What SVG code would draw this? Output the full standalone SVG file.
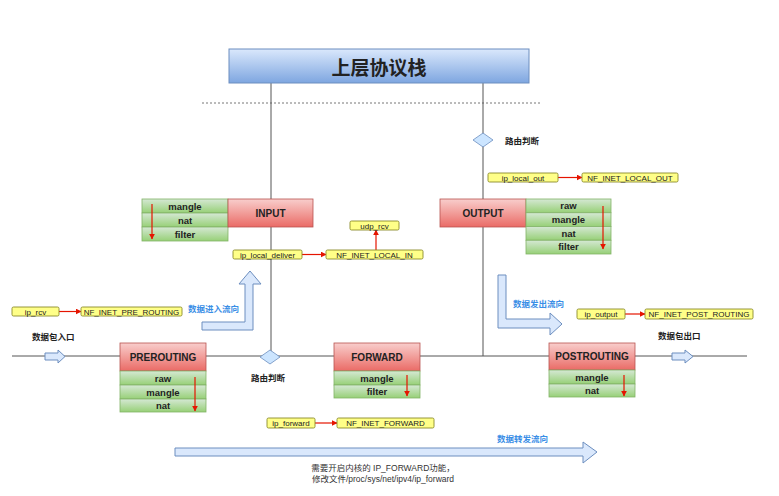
<svg xmlns="http://www.w3.org/2000/svg" width="779" height="496" viewBox="0 0 779 496">
<defs>
<linearGradient id="gBlue" x1="0" y1="0" x2="0" y2="1"><stop offset="0" stop-color="#dae8fc"/><stop offset="1" stop-color="#7ea6e0"/></linearGradient>
<linearGradient id="gRed" x1="0" y1="0" x2="0" y2="1"><stop offset="0" stop-color="#f8cecc"/><stop offset="1" stop-color="#ea6b66"/></linearGradient>
<linearGradient id="gGreen" x1="0" y1="0" x2="0" y2="1"><stop offset="0" stop-color="#d5e8d4"/><stop offset="1" stop-color="#97d077"/></linearGradient>
<marker id="ar" viewBox="0 0 10 10" refX="9" refY="5" markerWidth="6" markerHeight="6" orient="auto" markerUnits="userSpaceOnUse"><path d="M0,0 L10,5 L0,10 z" fill="#e51400"/></marker>
<style>
.red{fill:url(#gRed);stroke:#b85450;stroke-width:0.8}
.grn{fill:url(#gGreen);stroke:#82b366;stroke-width:0.8}
.yel{fill:#ffff88;stroke:#8a8a2a;stroke-width:0.9}
.hol{fill:#dae8fc;stroke:#6c8ebf;stroke-width:1}
.dia{fill:#cce5ff;stroke:#6c8ebf;stroke-width:0.8}
.ln{stroke:#555;stroke-width:1;fill:none}
.ra{stroke:#e51400;stroke-width:1.2;fill:none}
text{font-family:"Liberation Sans","Noto Sans CJK SC",sans-serif;fill:#222}
.tb{font-weight:bold;font-size:10px;text-anchor:middle}
.tg{font-weight:bold;font-size:9.5px;text-anchor:middle}
.ty{font-size:8px;text-anchor:middle}
.tc{font-weight:bold;font-size:8.5px}
.tbl{font-weight:bold;font-size:8.5px;fill:#3a8ee6}
.tn{font-size:8.5px;text-anchor:middle;fill:#333}
</style>
</defs>
<rect width="779" height="496" fill="#ffffff"/>

<g id="connectors">
<line x1="202" y1="103" x2="540" y2="103" stroke="#777" stroke-width="1" stroke-dasharray="2,2"/>
<line class="ln" x1="271" y1="83" x2="271" y2="356"/>
<line class="ln" x1="483" y1="83" x2="483" y2="356"/>
<line class="ln" x1="12" y1="356" x2="747" y2="356"/>
<line class="ra" x1="59" y1="311.5" x2="81" y2="311.5" marker-end="url(#ar)"/>
<line class="ra" x1="302" y1="254.5" x2="326" y2="254.5" marker-end="url(#ar)"/>
<line class="ra" x1="376" y1="250" x2="376" y2="230" marker-end="url(#ar)"/>
<line class="ra" x1="558" y1="177.5" x2="582" y2="177.5" marker-end="url(#ar)"/>
<line class="ra" x1="625" y1="314" x2="645" y2="314" marker-end="url(#ar)"/>
<line class="ra" x1="315" y1="423" x2="337" y2="423" marker-end="url(#ar)"/>
</g>

<g id="top-stack">
<rect x="229" y="49" width="300" height="34" fill="url(#gBlue)" stroke="#6c8ebf" stroke-width="1"/>
<text x="379" y="75" font-size="19" font-weight="bold" text-anchor="middle" font-family="'Noto Sans CJK SC',sans-serif">上层协议栈</text>
</g>

<g id="route-decision-top">
<polygon class="dia" points="473,140 483,133 493,140 483,147"/>
<text class="tc" x="505" y="144">路由判断</text>
</g>

<g id="route-decision-mid">
<polygon class="dia" points="260,357 270,350 280,357 270,364"/>
<text class="tc" x="251" y="381">路由判断</text>
</g>

<g id="input">
<rect class="grn" x="142" y="199" width="86" height="14"/>
<rect class="grn" x="142" y="213" width="86" height="14"/>
<rect class="grn" x="142" y="227" width="86" height="14"/>
<text class="tg" x="185" y="209.5">mangle</text>
<text class="tg" x="185" y="223.5">nat</text>
<text class="tg" x="185" y="237.5">filter</text>
<line class="ra" x1="152" y1="204" x2="152" y2="239" marker-end="url(#ar)"/>
<rect class="red" x="228" y="199" width="85" height="28"/>
<text class="tb" x="270.5" y="216.5">INPUT</text>
</g>

<g id="output">
<rect class="red" x="440" y="199" width="86" height="28"/>
<text class="tb" x="483" y="216.5">OUTPUT</text>
<rect class="grn" x="526" y="199" width="85" height="13.75"/>
<rect class="grn" x="526" y="212.75" width="85" height="13.75"/>
<rect class="grn" x="526" y="226.5" width="85" height="13.75"/>
<rect class="grn" x="526" y="240.25" width="85" height="13.75"/>
<text class="tg" x="568.5" y="209">raw</text>
<text class="tg" x="568.5" y="222.75">mangle</text>
<text class="tg" x="568.5" y="236.5">nat</text>
<text class="tg" x="568.5" y="250.25">filter</text>
<line class="ra" x1="603" y1="206" x2="603" y2="249" marker-end="url(#ar)"/>
</g>

<g id="prerouting">
<rect class="red" x="120" y="343" width="86" height="28"/>
<text class="tb" x="163" y="360.5">PREROUTING</text>
<rect class="grn" x="120" y="371" width="86" height="14"/>
<rect class="grn" x="120" y="385" width="86" height="14"/>
<rect class="grn" x="120" y="399" width="86" height="13"/>
<text class="tg" x="163" y="381.5">raw</text>
<text class="tg" x="163" y="395.5">mangle</text>
<text class="tg" x="163" y="409">nat</text>
<line class="ra" x1="195" y1="377" x2="195" y2="411" marker-end="url(#ar)"/>
</g>

<g id="forward">
<rect class="red" x="334" y="343" width="86" height="28"/>
<text class="tb" x="377" y="360.5">FORWARD</text>
<rect class="grn" x="334" y="371" width="86" height="14"/>
<rect class="grn" x="334" y="385" width="86" height="13"/>
<text class="tg" x="377" y="381.5">mangle</text>
<text class="tg" x="377" y="395">filter</text>
<line class="ra" x1="407" y1="375" x2="407" y2="396" marker-end="url(#ar)"/>
</g>

<g id="postrouting">
<rect class="red" x="549" y="343" width="86" height="27"/>
<text class="tb" x="592" y="360">POSTROUTING</text>
<rect class="grn" x="549" y="370" width="86" height="14"/>
<rect class="grn" x="549" y="384" width="86" height="13"/>
<text class="tg" x="592" y="380.5">mangle</text>
<text class="tg" x="592" y="394">nat</text>
<line class="ra" x1="624" y1="375" x2="624" y2="396" marker-end="url(#ar)"/>
</g>

<g id="ip_rcv"><rect class="yel" x="12" y="307" width="47" height="9" rx="1.5"/><text class="ty" x="35.5" y="314.5">ip_rcv</text></g>
<g id="nf_pre_routing"><rect class="yel" x="81" y="307" width="101" height="9" rx="1.5"/><text class="ty" x="131.5" y="314.5">NF_INET_PRE_ROUTING</text></g>
<g id="ip_local_deliver"><rect class="yel" x="233" y="250" width="69" height="9" rx="1.5"/><text class="ty" x="267.5" y="257.5">ip_local_deliver</text></g>
<g id="nf_local_in"><rect class="yel" x="326" y="250" width="97" height="9" rx="1.5"/><text class="ty" x="374.5" y="257.5">NF_INET_LOCAL_IN</text></g>
<g id="udp_rcv"><rect class="yel" x="350" y="221" width="49" height="9" rx="1.5"/><text class="ty" x="374.5" y="228.5">udp_rcv</text></g>
<g id="ip_local_out"><rect class="yel" x="488" y="173" width="70" height="9" rx="1.5"/><text class="ty" x="523" y="180.5">ip_local_out</text></g>
<g id="nf_local_out"><rect class="yel" x="582" y="173" width="96" height="9" rx="1.5"/><text class="ty" x="630" y="180.5">NF_INET_LOCAL_OUT</text></g>
<g id="ip_output"><rect class="yel" x="577" y="309" width="48" height="10" rx="1.5"/><text class="ty" x="601" y="317">ip_output</text></g>
<g id="nf_post_routing"><rect class="yel" x="645" y="309" width="108" height="10" rx="1.5"/><text class="ty" x="699" y="317">NF_INET_POST_ROUTING</text></g>
<g id="ip_forward"><rect class="yel" x="267" y="418" width="48" height="10" rx="1.5"/><text class="ty" x="291" y="426">ip_forward</text></g>
<g id="nf_forward"><rect class="yel" x="337" y="418" width="97" height="10" rx="1.5"/><text class="ty" x="385.5" y="426">NF_INET_FORWARD</text></g>

<g id="flow-in">
<polygon class="hol" points="202,322 245,322 245,284 239,284 250,271 261,284 253,284 253,330 202,330"/>
<text class="tbl" x="188" y="312">数据进入流向</text>
</g>
<g id="flow-out">
<polygon class="hol" points="498,275 506,275 506,319 550,319 550,313 562,324 550,335 550,328 498,328"/>
<text class="tbl" x="513" y="307">数据发出流向</text>
</g>
<g id="entry">
<polygon class="hol" points="45,353 58,353 58,350 65,356.5 58,363 58,360 45,360"/>
<text class="tc" x="32" y="340">数据包入口</text>
</g>
<g id="exit">
<polygon class="hol" points="672,353 685,353 685,350 693,356.5 685,363 685,360 672,360"/>
<text class="tc" x="658" y="339">数据包出口</text>
</g>
<g id="flow-forward">
<polygon class="hol" points="175,448 583,448 583,442 597,452 583,463 583,456 175,456"/>
<text class="tbl" x="497" y="442">数据转发流向</text>
<text class="tn" x="383" y="471">需要开启内核的 IP_FORWARD功能，</text>
<text class="tn" x="383" y="482">修改文件/proc/sys/net/ipv4/ip_forward</text>
</g>
</svg>
